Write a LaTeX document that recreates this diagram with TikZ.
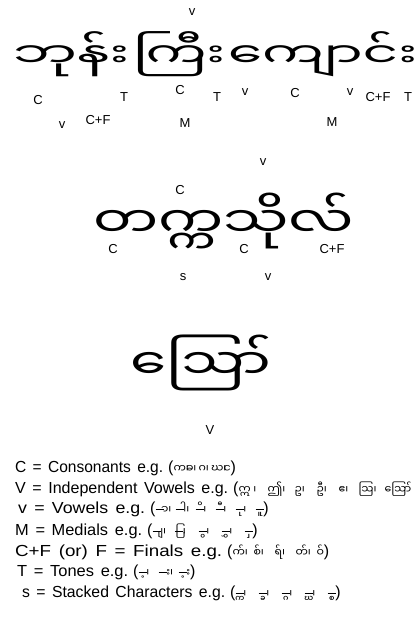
\documentclass[tikz,border=0pt]{standalone}
\usepackage{fontspec}
\setmainfont{Liberation Sans}
\newfontfamily\mya[Script=Myanmar]{Noto Sans Myanmar UI}
\newcommand\dbar{\rule[3.2pt]{8pt}{0.9pt}}
\newcommand\dm[1]{\dbar\kern-3pt{^^^^00a0#1}}
\newcommand\dpre[1]{{^^^^00a0#1}\kern-6pt\dbar}
\newcommand\itm[2]{\makebox[#1pt][l]{#2}}
\newcommand\lat[2]{\resizebox{#1pt}{\height}{\spaceskip=6.5pt\relax #2}\hspace{5pt}}
\newcommand\mys[1]{(\mbox{\mya\fontsize{11}{11}\selectfont #1})}
\newcommand\syl[2]{\resizebox{#1pt}{0.712\height}{#2}}
\begin{document}
\begin{tikzpicture}[x=1pt,y=-1pt,
  lbl/.style={inner sep=0pt,anchor=center,font=\fontsize{13}{13}\selectfont},
  big/.style={inner sep=0pt,anchor=base west,font=\mya\fontsize{48}{48}\selectfont},
  leg/.style={inner sep=0pt,anchor=base west,font=\fontsize{16}{16}\selectfont}]
\useasboundingbox (0,0) rectangle (419,621);
\fill[white] (0,0) rectangle (419,621);
% line 1
\node[big] (w1a) at (13,67) {\syl{116}{ဘုန်း}};
\node[big] (w1b) at (133,67) {\syl{92}{ကြီး}};
\node[big] (w1c) at (228,67) {\syl{189}{ကျောင်း}};
\node[lbl] (l1) at (38,100) {C};
\node[lbl] (l2) at (62,125) {v};
\node[lbl] (l3) at (98,120) {C+F};
\node[lbl] (l4) at (124,97) {T};
\node[lbl] (l5) at (180,90) {C};
\node[lbl] (l6) at (185,123) {M};
\node[lbl] (l7) at (192,12) {v};
\node[lbl] (l8) at (217,97) {T};
\node[lbl] (l9) at (245,92) {v};
\node[lbl] (l10) at (295,93) {C};
\node[lbl] (l11) at (332,122) {M};
\node[lbl] (l12) at (350,92) {v};
\node[lbl] (l13) at (378,97) {C+F};
\node[lbl] (l14) at (408,97) {T};
% line 2
\node[big,font=\mya\fontsize{58}{58}\selectfont] (w2) at (93,237) {\scalebox{1}[0.73]{တက္ကသိုလ်}};
\node[lbl] (m1) at (113,249) {C};
\node[lbl] (m2) at (180,190) {C};
\node[lbl] (m3) at (183,277) {s};
\node[lbl] (m4) at (263,162) {v};
\node[lbl] (m5) at (244,249) {C};
\node[lbl] (m6) at (268,277) {v};
\node[lbl] (m7) at (332,249) {C+F};
% line 3
\node[big,font=\mya\fontsize{58}{58}\selectfont] (w3) at (130,379) {\scalebox{1}[0.73]{ဪ}};
\node[lbl] (n1) at (210,430) {V};
% legend
\node[leg] (g1) at (15,472) {\lat{148}{C = Consonants e.g.}\mys{\itm{12.5}{က၊}\itm{12.5}{ခ၊}\itm{12.5}{ဂ၊}\itm{12.5}{ဃ၊}င}};
\node[leg] (g2) at (15,493) {\lat{213}{V = Independent Vowels e.g.}(\mbox{\mya\fontsize{11}{11}\selectfont\itm{29}{ဣ ၊}\itm{27}{ဤ၊}\itm{22}{ဥ၊}\itm{22}{ဦ၊}\itm{20}{ဧ၊}\itm{26}{ဩ၊}ဪ}};
\node[leg] (g3) at (18,513) {\lat{127}{v = Vowels e.g.}\mys{\itm{20}{\dm{ာ}၊}\itm{20}{\dm{ါ}၊}\itm{20}{\dm{ိ}၊}\itm{20}{\dm{ီ}၊}\itm{20}{\dm{ု}၊}\dm{ူ}}};
\node[leg] (g4) at (15,535) {\lat{127}{M = Medials e.g.}\mys{\itm{23}{\dm{ျ}၊}\itm{23}{\dpre{ြ}၊}\itm{23}{\dm{ွ}၊}\itm{23}{\dm{ွှ}၊}\dm{ှ}}};
\node[leg] (g5) at (15,556) {\lat{207}{C+F (or) F = Finals e.g.}\mys{\itm{21}{က်၊}\itm{21}{စ်၊}\itm{21}{ရ်၊}\itm{21}{တ်၊}ဝ်}};
\node[leg] (g6) at (17,576) {\lat{111}{T = Tones e.g.}\mys{\itm{20}{\dm{့}၊}\itm{20}{\dm{း}၊}\dm{့း}}};
\node[leg] (g7) at (22,597) {\lat{203}{s = Stacked Characters e.g.}\mys{\itm{23}{\dm{္က}၊}\itm{23}{\dm{္ခ}၊}\itm{23}{\dm{္ဂ}၊}\itm{23}{\dm{္ဃ}၊}\dm{္စ}}};
\end{tikzpicture}
\end{document}
